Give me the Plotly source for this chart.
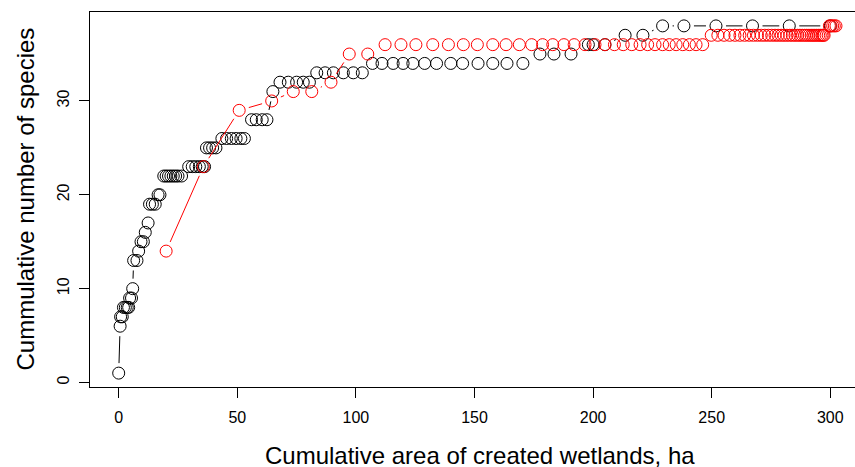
import plotly.graph_objects as go
import math

# ---- data ----
black_area = [0, 0.6, 0.8, 1.5, 2.0, 2.8, 3.6, 4.2, 4.6, 5.4, 5.9, 6.3, 7.7, 8.4, 9.4, 10.4,
              11.2, 12.4, 13.0, 14.2, 15.4, 16.6, 17.4,
              19, 20, 21, 22, 23, 24, 25, 26.5,
              29.5, 31, 32.5, 34, 35.2, 36.2,
              37, 38.3, 39.6, 41,
              43.5, 45.5, 47.5, 49.5, 51.5, 53,
              56, 58, 60.5, 62.5,
              65,
              68, 71.5, 75, 77.8, 80.4,
              83.5, 87, 90.5, 94.7, 98.9, 102.7,
              107, 111, 115.7, 119.9, 124, 129, 134, 140, 145, 151.5, 157.7, 163.7, 170.4,
              177.6, 183.5, 190.7,
              198, 200, 205,
              213.5, 221,
              229.3, 238.3, 251.8, 267.2, 282.7, 300]
black_species = [1, 6, 7, 7, 8, 8, 8, 8, 9, 9, 10, 13, 13, 14, 15, 15,
                 16, 17, 19, 19, 19, 20, 20,
                 22, 22, 22, 22, 22, 22, 22, 22,
                 23, 23, 23, 23, 23, 23,
                 25, 25, 25, 25,
                 26, 26, 26, 26, 26, 26,
                 28, 28, 28, 28,
                 31,
                 32, 32, 32, 32, 32,
                 33, 33, 33, 33, 33, 33,
                 34, 34, 34, 34, 34, 34, 34, 34, 34, 34, 34, 34, 34,
                 35, 35, 35,
                 36, 36, 36,
                 37, 37,
                 38, 38, 38, 38, 38, 38]

red_area = [20, 35.7, 50.8, 64.5, 73.6, 81.4, 89.5, 97.2, 105,
            112.3, 119, 125.3, 132.4, 139, 145.3, 151.2, 157.7, 163.3, 168.9, 174.1,
            178.7, 183, 187.7, 192, 196.6, 200.8, 205, 209, 212.7, 216.3, 219.8, 223,
            226.1, 229.3, 232.1, 235, 237.8, 240.6, 243.4, 246.2,
            249.8, 252.6, 255.2, 257.6, 259.8, 261.9, 263.9, 265.8, 267.6, 269.3,
            270.9, 272.4, 273.9, 275.3, 276.7, 278.0, 279.3, 280.5, 281.7, 282.9,
            284.0, 285.1, 286.2, 287.2, 288.2, 289.2, 290.1, 291.0, 291.9, 292.7,
            293.5, 294.3, 295.1, 295.8, 296.5, 297.0, 297.4,
            299.6, 300.3, 301.0, 301.7, 302.4]
red_species = [14, 23, 29, 30, 31, 31, 32, 35, 35] + [36] * 31 + [37] * 37 + [38] * 5

x_ticks = [0, 50, 100, 150, 200, 250, 300]
y_ticks = [0, 10, 20, 30]

x_title = "Cumulative area of created wetlands, ha"
y_title = "Cummulative number of species"

# ---- layout geometry (the original figure is a little wider than the window) ----
W, H = 870, 467
ML, MT, MB, MR = 90, 12, 80, 1
PW, PH = W - ML - MR, H - MT - MB
X0 = -12.1
PXX = 2.372
X1 = X0 + PW / PXX
Y0, Y1 = -0.48, 39.48
PXY = PH / (Y1 - Y0)
GAP = 10.0  # px gap around points (R type="b")


def gapped(xs, ys):
    lx, ly = [], []
    for i in range(len(xs) - 1):
        dx = (xs[i + 1] - xs[i]) * PXX
        dy = (ys[i + 1] - ys[i]) * PXY
        d = math.hypot(dx, dy)
        if d <= 2 * GAP:
            continue
        f = GAP / d
        lx += [xs[i] + f * (xs[i + 1] - xs[i]), xs[i + 1] - f * (xs[i + 1] - xs[i]), None]
        ly += [ys[i] + f * (ys[i + 1] - ys[i]), ys[i + 1] - f * (ys[i + 1] - ys[i]), None]
    return lx, ly


FONT = "Liberation Sans, Arial, Helvetica, sans-serif"
fig = go.Figure()
for xs, ys, col in [(black_area, black_species, "black"), (red_area, red_species, "#ff0000")]:
    lx, ly = gapped(xs, ys)
    fig.add_trace(go.Scatter(x=lx, y=ly, mode="lines", line=dict(color=col, width=1),
                             hoverinfo="skip", showlegend=False, cliponaxis=False))
    fig.add_trace(go.Scatter(x=xs, y=ys, mode="markers",
                             marker=dict(symbol="circle-open", size=12, color=col,
                                         line=dict(color=col, width=1)),
                             showlegend=False, cliponaxis=False))

fig.update_layout(
    width=W, height=H,
    margin=dict(l=ML, r=MR, t=MT, b=MB, pad=0, autoexpand=False),
    paper_bgcolor="white", plot_bgcolor="white",
    font=dict(family=FONT, color="black"),
    xaxis=dict(range=[X0, X1], tickvals=x_ticks, ticks="outside", ticklen=10,
               tickcolor="black", tickwidth=1, showline=True, linecolor="black",
               linewidth=1, mirror=True, showgrid=False, zeroline=False, automargin=False,
               tickfont=dict(size=16, family=FONT), ticklabelstandoff=6),
    yaxis=dict(range=[Y0, Y1], tickvals=y_ticks, ticks="outside", ticklen=10,
               tickcolor="black", tickwidth=1, showline=True, linecolor="black",
               linewidth=1, mirror=True, showgrid=False, zeroline=False, automargin=False,
               tickangle=-90, tickfont=dict(size=16, family=FONT), ticklabelstandoff=4),
    annotations=[
        dict(text=x_title, xref="paper", yref="paper",
             x=0.5, y=(MT + PH - 455) / PH, xanchor="center", yanchor="middle",
             showarrow=False, font=dict(size=24, family=FONT)),
        dict(text=y_title, xref="paper", yref="paper", textangle=-90,
             x=(25 - ML) / PW, y=0.5, xanchor="center", yanchor="middle",
             showarrow=False, font=dict(size=24, family=FONT)),
    ],
)

fig.write_html(
    "out.html",
    config={"displayModeBar": False, "staticPlot": True},
    post_script="document.body.style.margin='0';document.body.style.overflow='hidden';"
                "document.documentElement.style.overflow='hidden';",
)
